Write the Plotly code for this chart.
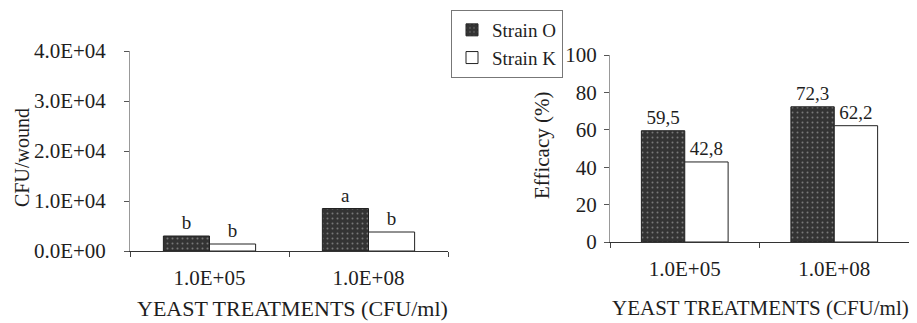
import plotly.graph_objects as go

categories = ["1.0E+05", "1.0E+08"]
series_names = ["Strain O", "Strain K"]
cfu_strain_o = [3000, 8500]
cfu_strain_k = [1400, 3800]
cfu_letters_o = ["b", "a"]
cfu_letters_k = ["b", "b"]
eff_strain_o = [59.5, 72.3]
eff_strain_k = [42.8, 62.2]
cfu_tickvals = [0, 10000, 20000, 30000, 40000]
cfu_ticktext = ["0.0E+00", "1.0E+04", "2.0E+04", "3.0E+04", "4.0E+04"]

FONT = "Liberation Serif"
INK = "#1e1e1e"
DARK = "#333333"

dark_marker = dict(color=DARK, line=dict(color="#222", width=1),
                   pattern=dict(shape=".", fgcolor="#bdbdbd", bgcolor=DARK, size=5, solidity=0.12))
white_marker = dict(color="white", line=dict(color="#222", width=1))

fig = go.Figure()
fig.add_bar(x=categories, y=cfu_strain_o, name=series_names[0], marker=dark_marker,
            text=cfu_letters_o, textposition="outside", cliponaxis=False,
            textfont=dict(family=FONT, size=19, color=INK), xaxis="x", yaxis="y", legendgroup="o")
fig.add_bar(x=categories, y=cfu_strain_k, name=series_names[1], marker=white_marker,
            text=cfu_letters_k, textposition="outside", cliponaxis=False,
            textfont=dict(family=FONT, size=19, color=INK), xaxis="x", yaxis="y", legendgroup="k")
fig.add_bar(x=categories, y=eff_strain_o, name=series_names[0], marker=dark_marker,
            texttemplate="%{y:.1f}", textposition="outside", cliponaxis=False,
            textfont=dict(family=FONT, size=19, color=INK), xaxis="x2", yaxis="y2",
            legendgroup="o", showlegend=False)
fig.add_bar(x=categories, y=eff_strain_k, name=series_names[1], marker=white_marker,
            texttemplate="%{y:.1f}", textposition="outside", cliponaxis=False,
            textfont=dict(family=FONT, size=19, color=INK), xaxis="x2", yaxis="y2",
            legendgroup="k", showlegend=False)

# page body has an 8px margin; figure is sized to fill the rest of the window
OFF = 8
W, H = 909, 315
def px(x):
    return (x - OFF) / W
def py(y):
    return 1 - (y - OFF) / H

tickfont = dict(family=FONT, size=21, color=INK)
xcommon = dict(showgrid=False, zeroline=False, tickfont=tickfont, automargin=False,
               type="category", tickson="boundaries", ticks="outside", ticklen=5,
               tickcolor="#444", showline=True, linecolor="#333", linewidth=1, ticklabelstandoff=8)
ycommon = dict(showgrid=False, zeroline=False, tickfont=tickfont, automargin=False,
               ticks="outside", ticklen=5, tickcolor="#555", showline=True,
               linecolor="#999", linewidth=1)

fig.update_layout(
    width=W, height=H, margin=dict(l=0, r=0, t=0, b=0, pad=0, autoexpand=False),
    paper_bgcolor="white", plot_bgcolor="white",
    separators=",.",
    barmode="group", bargap=0.42, bargroupgap=0,
    font=dict(family=FONT, size=18, color=INK),
    xaxis=dict(xcommon, domain=[px(130), px(448)], anchor="y"),
    yaxis=dict(ycommon, domain=[py(251), py(51)], range=[0, 40000], anchor="x",
               tickvals=cfu_tickvals, ticktext=cfu_ticktext, ticklabelstandoff=14),
    xaxis2=dict(xcommon, domain=[px(610), px(909)], anchor="y2"),
    yaxis2=dict(ycommon, domain=[py(242), py(55)], range=[0, 100], dtick=20, anchor="x2",
                ticklabelstandoff=3),
    legend=dict(x=px(451), y=py(10), xanchor="left", yanchor="top",
                bordercolor="#777", borderwidth=1, bgcolor="white",
                font=dict(family=FONT, size=19, color=INK), itemwidth=30,
                tracegroupgap=0),
    showlegend=True,
    annotations=[
        dict(text="CFU/wound", x=px(22), y=py(158), xref="paper", yref="paper", textangle=-90,
             xanchor="center", yanchor="middle",
             showarrow=False, font=dict(family=FONT, size=20, color=INK)),
        dict(text="Efficacy (%)", x=px(542), y=py(146), xref="paper", yref="paper", textangle=-90,
             xanchor="center", yanchor="middle",
             showarrow=False, font=dict(family=FONT, size=21, color=INK)),
        dict(text="YEAST TREATMENTS (CFU/ml)", x=px(292), y=py(308), xref="paper", yref="paper",
             xanchor="center", yanchor="middle",
             showarrow=False, font=dict(family=FONT, size=22, color=INK)),
        dict(text="YEAST TREATMENTS (CFU/ml)", x=px(760), y=py(308), xref="paper", yref="paper",
             xanchor="center", yanchor="middle",
             showarrow=False, font=dict(family=FONT, size=21, color=INK)),
    ],
)

fig.write_html("out.html")
